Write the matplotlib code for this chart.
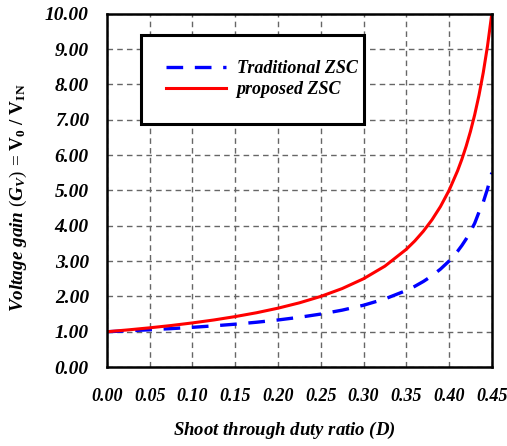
import matplotlib
matplotlib.use("Agg")
import matplotlib.pyplot as plt

# duty ratio D and gains
duty = [0.000, 0.025, 0.050, 0.075, 0.100, 0.125, 0.150, 0.175, 0.200, 0.225,
        0.250, 0.275, 0.300, 0.325, 0.350, 0.360, 0.370, 0.380, 0.390, 0.400,
        0.410, 0.415, 0.420, 0.425, 0.430, 0.435, 0.440, 0.445, 0.450]
gain_traditional = [1.000, 1.026, 1.056, 1.088, 1.125, 1.167, 1.214, 1.269, 1.333, 1.409,
                    1.500, 1.611, 1.750, 1.929, 2.167, 2.286, 2.423, 2.583, 2.773, 3.000,
                    3.278, 3.441, 3.625, 3.833, 4.071, 4.385, 4.667, 5.045, 5.500]
gain_proposed = [1.000, 1.053, 1.111, 1.176, 1.250, 1.333, 1.429, 1.538, 1.667, 1.818,
                 2.000, 2.222, 2.500, 2.857, 3.333, 3.571, 3.846, 4.167, 4.545, 5.000,
                 5.556, 5.882, 6.250, 6.667, 7.143, 7.692, 8.333, 9.091, 10.000]

x_ticks = [0.00, 0.05, 0.10, 0.15, 0.20, 0.25, 0.30, 0.35, 0.40, 0.45]
y_ticks = [0, 1, 2, 3, 4, 5, 6, 7, 8, 9, 10]

plt.rcParams["font.family"] = ["Liberation Serif", "DejaVu Serif"]
plt.rcParams["mathtext.fontset"] = "custom"
plt.rcParams["mathtext.rm"] = "Liberation Serif:bold"
plt.rcParams["mathtext.it"] = "Liberation Serif:italic:bold"
plt.rcParams["mathtext.bf"] = "Liberation Serif:bold"

fig = plt.figure(figsize=(5.07, 4.46), dpi=100)
ax = fig.add_axes([0.211, 0.177, 0.759, 0.792])

ax.plot(duty, gain_traditional, color="#0000ff", lw=2.4, ls=(0, (5, 3.5)),
        label="Traditional ZSC")
ax.plot(duty, gain_proposed, color="#ff0000", lw=2.2, label="proposed ZSC")

ax.set_xlim(0, 0.45)
ax.set_ylim(0, 10)
ax.set_xticks(x_ticks)
ax.set_yticks(y_ticks)
ax.set_xticklabels([f"{v:.2f}" for v in x_ticks])
ax.set_yticklabels([f"{v:.2f}" for v in y_ticks])
for lab in ax.get_xticklabels() + ax.get_yticklabels():
    lab.set_fontweight("bold")
    lab.set_fontstyle("italic")
for lab in ax.get_xticklabels():
    lab.set_fontsize(13)
for lab in ax.get_yticklabels():
    lab.set_fontsize(14)
ax.tick_params(axis="both", length=0)
ax.tick_params(axis="x", pad=15)
ax.tick_params(axis="y", pad=13)

ax.grid(True, color="#666666", ls=(0, (4, 3)), lw=1)
for sp in ax.spines.values():
    sp.set_linewidth(1.8)
    sp.set_color("black")

ax.set_xlabel("Shoot through duty ratio ($\\mathit{D}$)", fontsize=13.5,
              fontweight="bold", fontstyle="italic")
ax.xaxis.set_label_coords(0.46, -0.15)
ax.set_ylabel(r"$\mathit{Voltage\ gain}$ ($\mathit{G_V}$) = $\mathrm{V_0\ /\ V_{IN}}$",
              fontsize=13.8)
ax.yaxis.set_label_coords(-0.203, 0.48)

leg = ax.legend(loc="upper left", bbox_to_anchor=(0.088, 0.691, 0.58, 0.25),
                mode="expand", borderaxespad=0, frameon=True, fancybox=False,
                framealpha=1, edgecolor="black", borderpad=1.4, handlelength=3.3,
                handletextpad=0.6, labelspacing=0.25,
                prop={"weight": "bold", "style": "italic", "size": 13})
leg.get_frame().set_linewidth(2.2)

fig.savefig("out.png", dpi=100)
